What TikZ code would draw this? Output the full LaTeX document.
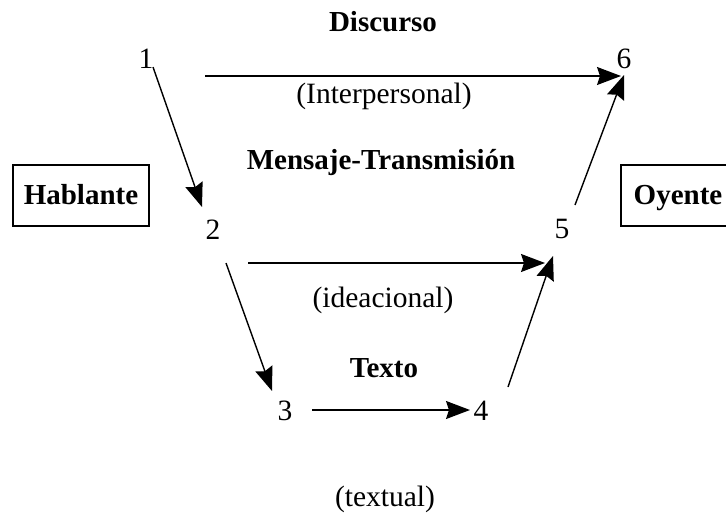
\documentclass[tikz,border=0pt]{standalone}
\usepackage{fontspec}
\setmainfont{Liberation Serif}
\usetikzlibrary{arrows.meta}
\begin{document}
\begin{tikzpicture}[x=1pt,y=-1pt,
  lbl/.style={inner sep=0pt,anchor=base,font=\fontsize{29.5}{34}\selectfont},
  blbl/.style={inner sep=0pt,anchor=base,font=\fontsize{29}{34}\selectfont\bfseries},
  arr/.style={line width=1.4pt,-{Stealth[length=24pt,width=18pt,inset=3pt]}},
  boxstyle/.style={draw,line width=1.1pt}]
\useasboundingbox (0,0) rectangle (726,519);
\clip (0,0) rectangle (726,519);
% titles
\node[blbl] (disc) at (383,32) {Discurso};
\node[lbl] (inter) at (384,103) {(Interpersonal)};
\node[blbl] (mens) at (381,169) {Mensaje-Transmisión};
\node[lbl] (idea) at (383,307) {(ideacional)};
\node[blbl] (texto) at (384,377) {Texto};
\node[lbl] (textual) at (385,506) {(textual)};
% boxes
\draw[boxstyle] (13,165) rectangle (149,226);
\node[blbl] (habl) at (81,204) {Hablante};
\draw[boxstyle] (621,165) rectangle (740,226);
\node[blbl] (oyen) at (678,204) {Oyente};
% digits
\node[lbl] (n1) at (146,69) {1};
\node[lbl] (n6) at (624,69) {6};
\node[lbl] (n2) at (213,239) {2};
\node[lbl] (n5) at (562,238) {5};
\node[lbl] (n3) at (285,420) {3};
\node[lbl] (n4) at (481,420) {4};
% connector end points
\coordinate (a16s) at (205,76);
\coordinate (a16e) at (621,76);
\coordinate (a12s) at (153,67);
\coordinate (a12e) at (202,207);
\coordinate (a56s) at (575,205);
\coordinate (a56e) at (624,75);
\coordinate (a25s) at (248,263);
\coordinate (a25e) at (545,263);
\coordinate (a23s) at (226,263);
\coordinate (a23e) at (272,391);
\coordinate (a45s) at (508,387);
\coordinate (a45e) at (553,256);
\coordinate (a34s) at (312,410);
\coordinate (a34e) at (470,410);
\draw[arr] (a16s) -- (a16e);
\draw[arr] (a12s) -- (a12e);
\draw[arr] (a56s) -- (a56e);
\draw[arr] (a25s) -- (a25e);
\draw[arr] (a23s) -- (a23e);
\draw[arr] (a45s) -- (a45e);
\draw[arr] (a34s) -- (a34e);
\end{tikzpicture}
\end{document}
